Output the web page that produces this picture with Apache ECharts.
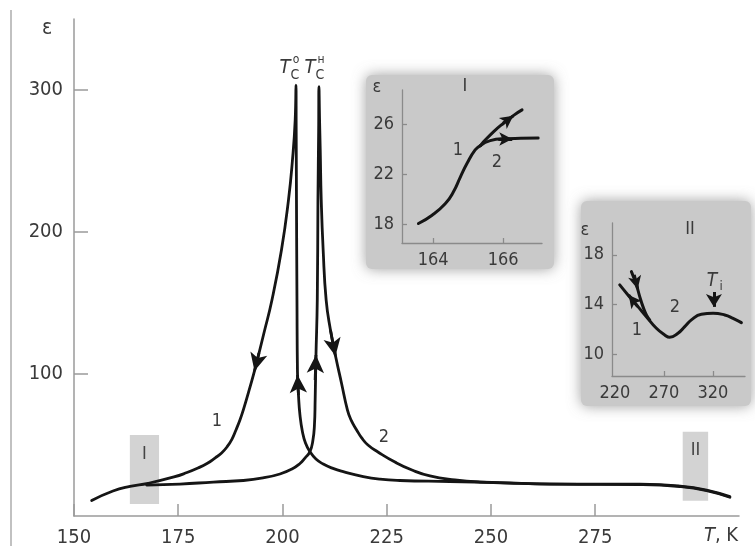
<!DOCTYPE html>
<html>
<head>
<meta charset="utf-8">
<script src="https://cdn.jsdelivr.net/npm/echarts@6/dist/echarts.min.js"></script>
<style>
  html, body { margin: 0; background: #fff; }
  #chart { width: 755px; height: 546px; }
</style>
</head>
<body>
<div id="chart"></div>
<script>
  // main plot: [T, eps]
  // curve 1 (cooling): from high T, peak at T_C^o, back down on the low-T side
  const coolingCurve = [
    [307.31, 13.6], [301.73, 18.3], [295.32, 21.1], [285.73, 22.4], [264.15, 22.5], [252.16, 23.5],
    [240.17, 24.3], [228.18, 25.0], [223.38, 25.9], [219.38, 27.7], [214.58, 31.2], [212.11, 33.5],
    [209.78, 36.6], [208.03, 40.1], [206.59, 45.3], [205.52, 51.4], [204.80, 59.2], [204.20, 71.1],
    [203.84, 85.2], [203.60, 101.4], [203.48, 152.1], [203.36, 222.5], [203.29, 271.8],
    [203.24, 303.5],
    [203.05, 278.9], [202.40, 250.7], [201.44, 222.5], [199.76, 187.3], [197.48, 152.1],
    [195.56, 128.9], [193.53, 104.9], [192.21, 90.8], [190.60, 74.6], [189.8, 67.6], [188.85, 60.6],
    [187.9, 54.2], [186.69, 48.6], [185.4, 44.4], [183.81, 40.8], [181.9, 37.0], [179.74, 33.8],
    [177.1, 30.6], [173.98, 27.5], [167.75, 23.0], [163.43, 20.8], [159.35, 17.6], [154.24, 10.9]
  ];
  // curve 2 (heating): from low T, peak at T_C^н, down on the high-T side
  const heatingCurve = [
    [167.43, 21.8], [175.42, 22.5], [183.41, 23.9], [190.60, 25.0], [195.32, 26.8], [199.40, 29.6],
    [202.28, 33.1], [204.20, 37.0], [205.40, 40.8], [206.59, 45.3], [207.31, 53.5], [207.67, 64.1],
    [207.84, 81.7], [208.03, 112.0], [208.35, 152.1], [208.51, 222.5], [208.68, 271.8],
    [208.75, 302.3],
    [208.90, 278.9], [209.06, 257.7], [209.30, 222.5], [209.76, 187.3], [210.48, 152.1],
    [211.51, 131.0], [212.83, 111.3], [214.15, 93.7], [215.59, 74.6], [216.5, 67.3], [217.79, 60.6],
    [219.0, 55.0], [220.50, 50.0], [222.90, 45.1], [226.98, 38.0], [231.06, 32.4], [235.37, 28.2],
    [241.37, 25.4], [247.36, 23.9], [256.95, 23.0], [266.55, 22.5], [285.73, 22.1], [295.32, 20.7],
    [301.73, 17.9], [307.31, 13.2]
  ];
  // arrows: [tailT, tailEps, headT, headEps]
  const coolingArrows = [[194.36, 114.8, 193.29, 102.1], [203.84, 85.2, 203.62, 99.3]];
  const heatingArrows = [[207.84, 95.8, 208.03, 113.4], [211.51, 131.0, 212.71, 112.7]];
  // shaded ranges on the main plot: [name, T1, eps1, T2, eps2]
  const zoomRegions = [['I', 163.4, 8.5, 170.4, 57.0], ['II', 296.0, 10.8, 302.1, 59.4]];

  // inset I
  const insetOneStem = [
    [163.58, 18.06], [163.97, 18.72], [164.35, 19.66], [164.58, 20.6], [164.78, 21.8],
    [164.97, 22.88], [165.2, 23.95], [165.35, 24.3]
  ];
  const insetOneBranch1 = [[165.35, 24.3], [165.44, 24.6], [165.73, 25.42], [166.01, 26.09], [166.32, 26.76], [166.54, 27.16]];
  const insetOneBranch2 = [[165.35, 24.3], [165.63, 24.7], [166.06, 24.85], [166.5, 24.88], [167.0, 24.9]];
  const insetOneArrows1 = [[166.0, 26.09, 166.29, 26.68]];
  const insetOneArrows2 = [[165.86, 24.83, 166.26, 24.83]];

  // inset II
  const insetTwoMain = [
    [224.9, 15.57], [233.3, 14.76], [243.5, 13.82], [252.1, 13.01], [262.3, 12.08], [270.8, 11.54],
    [275.9, 11.35], [284.3, 11.67], [291.2, 12.21], [298.0, 12.75], [308.2, 13.21], [320.1, 13.29],
    [332.0, 13.15], [340.5, 12.88], [349.0, 12.53]
  ];
  const insetTwoBranch = [[236.8, 16.64], [241.9, 15.57], [245.3, 14.63], [248.6, 13.82], [252.1, 13.15], [255.5, 12.75]];
  const insetTwoArrowsMain = [[243.2, 13.83, 234.0, 14.76]];
  const insetTwoArrowsBranch = [[239.7, 16.38, 243.2, 15.25]];
  const transitionArrow = [[321, 15.0, 321, 13.8]];

  // tick labels
  const mainXTicks = [150, 175, 200, 225, 250, 275];
  const mainYTicks = [100, 200, 300];
  const insetOneXTicks = [164, 166];
  const insetOneYTicks = [18, 22, 26];
  const insetTwoXTicks = [220, 270, 320];
  const insetTwoXTickMarks = [270, 320];
  const insetTwoYTicks = [10, 14, 18];

  const fontFamily = '"DejaVu Sans Condensed", "Liberation Sans Narrow", "DejaVu Sans", sans-serif';
  const ink = '#151515';
  const textColor = '#3a3a3a';
  const axisGray = '#9a9a9a';

  const myChart = echarts.init(document.getElementById('chart'));

  function makeAxis(grid, min, max, ticks, tickMarks, opts) {
    return {
      type: 'value', gridIndex: grid, min: min, max: max,
      axisLine: { show: true, onZero: false, lineStyle: { color: opts.lineColor, width: opts.lineWidth } },
      axisTick: { show: true, inside: true, length: opts.tickLen, customValues: tickMarks,
        lineStyle: { color: opts.lineColor, width: opts.lineWidth } },
      axisLabel: { customValues: ticks, margin: opts.margin, fontSize: opts.fontSize,
        fontFamily: fontFamily, color: textColor },
      splitLine: { show: false }
    };
  }

  function arrowMarks(list, size, width) {
    return {
      silent: true, animation: false,
      symbol: ['none', 'arrow'], symbolSize: size,
      label: { show: false },
      lineStyle: { color: ink, width: width, type: 'solid' },
      emphasis: { disabled: true },
      data: list.map(a => [{ coord: [a[0], a[1]] }, { coord: [a[2], a[3]] }])
    };
  }

  function curve(data, x, y, width, arrows, arrowSize) {
    const s = {
      type: 'line', xAxisIndex: x, yAxisIndex: y, data: data,
      showSymbol: false, smooth: 0.5, z: 3, silent: true,
      lineStyle: { color: ink, width: width, cap: 'round', join: 'round' }
    };
    if (arrows) s.markLine = arrowMarks(arrows, arrowSize, width);
    return s;
  }

  function label(x, y, text, size, extra) {
    return {
      type: 'text', x: x, y: y, z: 20,
      style: Object.assign({ text: text, fontSize: size, fontFamily: fontFamily, fill: textColor,
        align: 'center', verticalAlign: 'middle' }, extra || {})
    };
  }

  function critLabel(x, sup) {
    return [
      label(x - 5, 68, 'T', 20, { fontStyle: 'italic' }),
      label(x + 5, 75, 'C', 14),
      label(x + 6, 60, sup, 12)
    ];
  }

  function insetBox(x, y, w, h) {
    return {
      type: 'rect', z: -10, silent: true,
      shape: { x: x, y: y, width: w, height: h, r: 6 },
      style: { fill: '#c9c9c9', shadowBlur: 14, shadowColor: 'rgba(120,120,120,0.7)' }
    };
  }

  const mainAxisOpts = { lineColor: axisGray, lineWidth: 1.5, tickLen: 12, margin: 12, fontSize: 20 };
  const insetAxisOpts = { lineColor: '#8a8a8a', lineWidth: 1.3, tickLen: 5, margin: 8, fontSize: 18 };

  const mainY = makeAxis(0, 0, 350, mainYTicks, mainYTicks, mainAxisOpts);
  mainY.axisTick.length = 14;
  mainY.axisLabel.margin = 11;

  const option = {
    animation: false,
    grid: [
      { left: 74, top: 19, width: 665, height: 497, containLabel: false, outerBoundsMode: 'none' },
      { left: 402, top: 90, width: 140, height: 153, containLabel: false, outerBoundsMode: 'none' },
      { left: 612, top: 223, width: 133, height: 153, containLabel: false, outerBoundsMode: 'none' }
    ],
    xAxis: [
      makeAxis(0, 150, 309.5, mainXTicks, mainXTicks, mainAxisOpts),
      makeAxis(1, 163.11, 167.11, insetOneXTicks, insetOneXTicks, insetAxisOpts),
      makeAxis(2, 217, 352.7, insetTwoXTicks, insetTwoXTickMarks, insetAxisOpts)
    ],
    yAxis: [
      mainY,
      makeAxis(1, 16.5, 28.75, insetOneYTicks, insetOneYTicks, insetAxisOpts),
      makeAxis(2, 8.23, 20.56, insetTwoYTicks, insetTwoYTicks, insetAxisOpts)
    ],
    graphic: [
      { type: 'line', silent: true, shape: { x1: 11, y1: 10, x2: 11, y2: 546 },
        style: { stroke: '#a0a0a0', lineWidth: 1.3 } },
      insetBox(366, 75, 188, 194),
      insetBox(581, 201, 170, 205),
      label(47, 29, 'ε', 21),
      {
        type: 'text', x: 721, y: 536, z: 20,
        style: { text: '{i|T}, K', fontSize: 20, fontFamily: fontFamily, fill: textColor,
          align: 'center', verticalAlign: 'middle',
          rich: { i: { fontStyle: 'italic', fontSize: 20, fontFamily: fontFamily, fill: textColor } } }
      },
      ...critLabel(290, 'о'),
      ...critLabel(315, 'н'),
      label(217, 421, '1', 18),
      label(384, 437, '2', 18),
      // inset I
      label(377, 87, 'ε', 18),
      label(465, 86, 'I', 18),
      label(458, 150, '1', 18),
      label(497, 162, '2', 18),
      // inset II
      label(585, 230, 'ε', 18),
      label(690, 229, 'II', 18),
      label(637, 330, '1', 18),
      label(675, 307, '2', 18),
      label(712, 281, 'T', 19, { fontStyle: 'italic' }),
      label(721, 287, 'i', 13)
    ],
    series: [
      Object.assign(curve(coolingCurve, 0, 0, 2.8, coolingArrows, [13, 18]), {
        markArea: {
          silent: true,
          itemStyle: { color: '#d3d3d3' },
          label: { show: true, position: 'insideTop', distance: 10, fontSize: 18,
            fontFamily: fontFamily, color: '#444' },
          data: zoomRegions.map(r => [{ name: r[0], coord: [r[1], r[2]] }, { coord: [r[3], r[4]] }])
        }
      }),
      curve(heatingCurve, 0, 0, 2.8, heatingArrows, [13, 18]),
      curve(insetOneStem, 1, 1, 3),
      curve(insetOneBranch1, 1, 1, 3, insetOneArrows1, [10, 13]),
      curve(insetOneBranch2, 1, 1, 3, insetOneArrows2, [10, 13]),
      curve(insetTwoMain, 2, 2, 3, insetTwoArrowsMain, [10, 13]),
      curve(insetTwoBranch, 2, 2, 3, insetTwoArrowsBranch, [10, 13]),
      curve([], 2, 2, 3, transitionArrow, [12, 13])
    ]
  };
  myChart.setOption(option);
</script>
</body>
</html>
